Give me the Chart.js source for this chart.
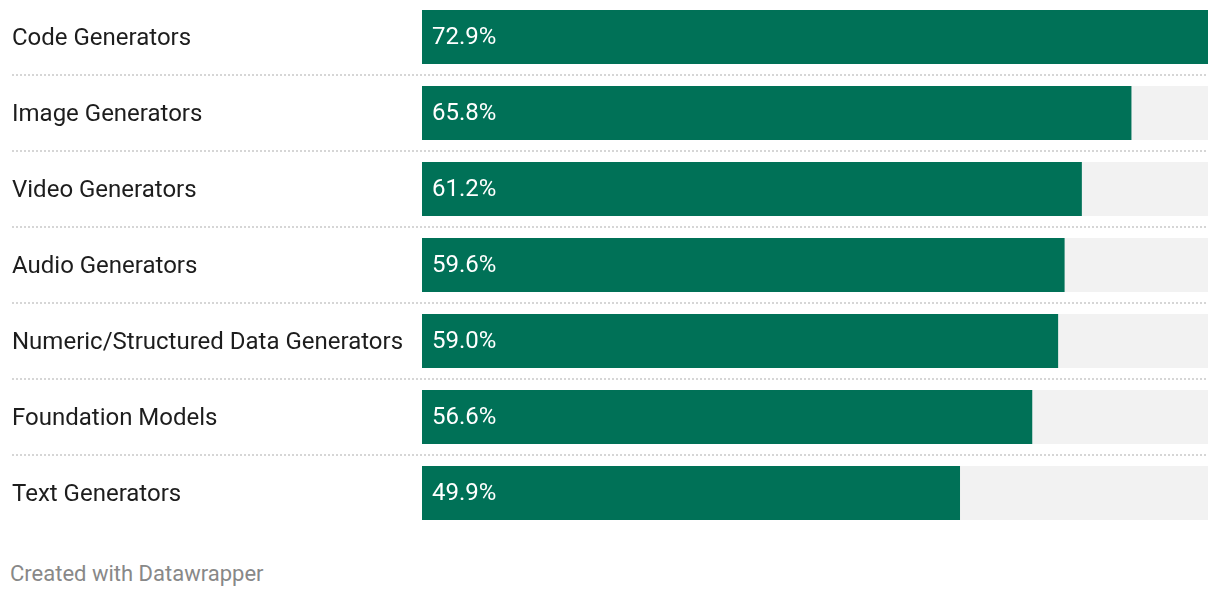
<!DOCTYPE html>
<html lang="en">
<head>
    <meta charset="UTF-8">
    <title>Generators</title>
    <script src="https://cdn.jsdelivr.net/npm/chart.js"></script>
    <style>
        html, body {
            margin: 0;
            padding: 0;
            background: #fff;
        }
        .wrap {
            position: absolute;
            left: 0;
            top: -1px;
            width: 1220px;
            height: 532px;
        }
        .footer {
            position: absolute;
            left: 10px;
            top: 561px;
            font-family: Roboto, sans-serif;
            font-size: 22px;
            color: #888;
        }
    </style>
</head>
<body>
    <div class="wrap"><canvas id="chart"></canvas></div>
    <div class="footer">Created with Datawrapper</div>

    <script>
        // dados
        const categories = ['Code Generators', 'Image Generators', 'Video Generators', 'Audio Generators',
            'Numeric/Structured Data Generators', 'Foundation Models', 'Text Generators'];
        const values = [72.9, 65.8, 61.2, 59.6, 59.0, 56.6, 49.9];

        const maxValue = Math.max(...values);
        const track = categories.map(() => maxValue);

        // linhas pontilhadas entre as linhas
        const separators = {
            id: 'separators',
            beforeDatasetsDraw(chart) {
                const ctx = chart.ctx;
                const y = chart.scales.y;
                ctx.save();
                ctx.strokeStyle = '#d6d6d6';
                ctx.lineWidth = 2;
                ctx.setLineDash([2, 2]);
                for (let i = 0; i < categories.length - 1; i++) {
                    const py = Math.round((y.getPixelForValue(i) + y.getPixelForValue(i + 1)) / 2);
                    ctx.beginPath();
                    ctx.moveTo(12, py);
                    ctx.lineTo(chart.chartArea.right, py);
                    ctx.stroke();
                }
                ctx.restore();
            }
        };

        // rótulos de valor dentro da barra
        const valueLabels = {
            id: 'valueLabels',
            afterDatasetsDraw(chart) {
                const ctx = chart.ctx;
                const meta = chart.getDatasetMeta(1);
                ctx.save();
                ctx.fillStyle = '#fff';
                ctx.font = '24px Roboto';
                ctx.textBaseline = 'middle';
                meta.data.forEach((bar, i) => {
                    ctx.fillText(values[i].toFixed(1) + '%', bar.base + 10, bar.y + 1);
                });
                ctx.restore();
            }
        };

        new Chart(document.getElementById('chart'), {
            type: 'bar',
            data: {
                labels: categories,
                datasets: [{
                    data: track,
                    backgroundColor: '#f2f2f2',
                    grouped: false,
                    order: 2,
                    barPercentage: 54 / 76,
                    categoryPercentage: 1
                }, {
                    data: values,
                    backgroundColor: '#007157',
                    grouped: false,
                    order: 1,
                    barPercentage: 54 / 76,
                    categoryPercentage: 1
                }]
            },
            options: {
                indexAxis: 'y',
                responsive: true,
                maintainAspectRatio: false,
                animation: false,
                layout: { padding: { left: 12, right: 12, top: 0, bottom: 0 } },
                plugins: {
                    legend: { display: false },
                    tooltip: { enabled: false }
                },
                scales: {
                    x: {
                        display: false,
                        min: 0,
                        max: maxValue
                    },
                    y: {
                        border: { display: false },
                        grid: { display: false },
                        afterFit(scale) {
                            scale.width = 410;
                            scale.paddingTop = 0;
                            scale.paddingBottom = 0;
                        },
                        ticks: {
                            crossAlign: 'far',
                            color: '#1d1d1d',
                            padding: 0,
                            labelOffset: 1.5,
                            font: { family: 'Roboto', size: 24 }
                        }
                    }
                }
            },
            plugins: [separators, valueLabels]
        });
    </script>
</body>
</html>
